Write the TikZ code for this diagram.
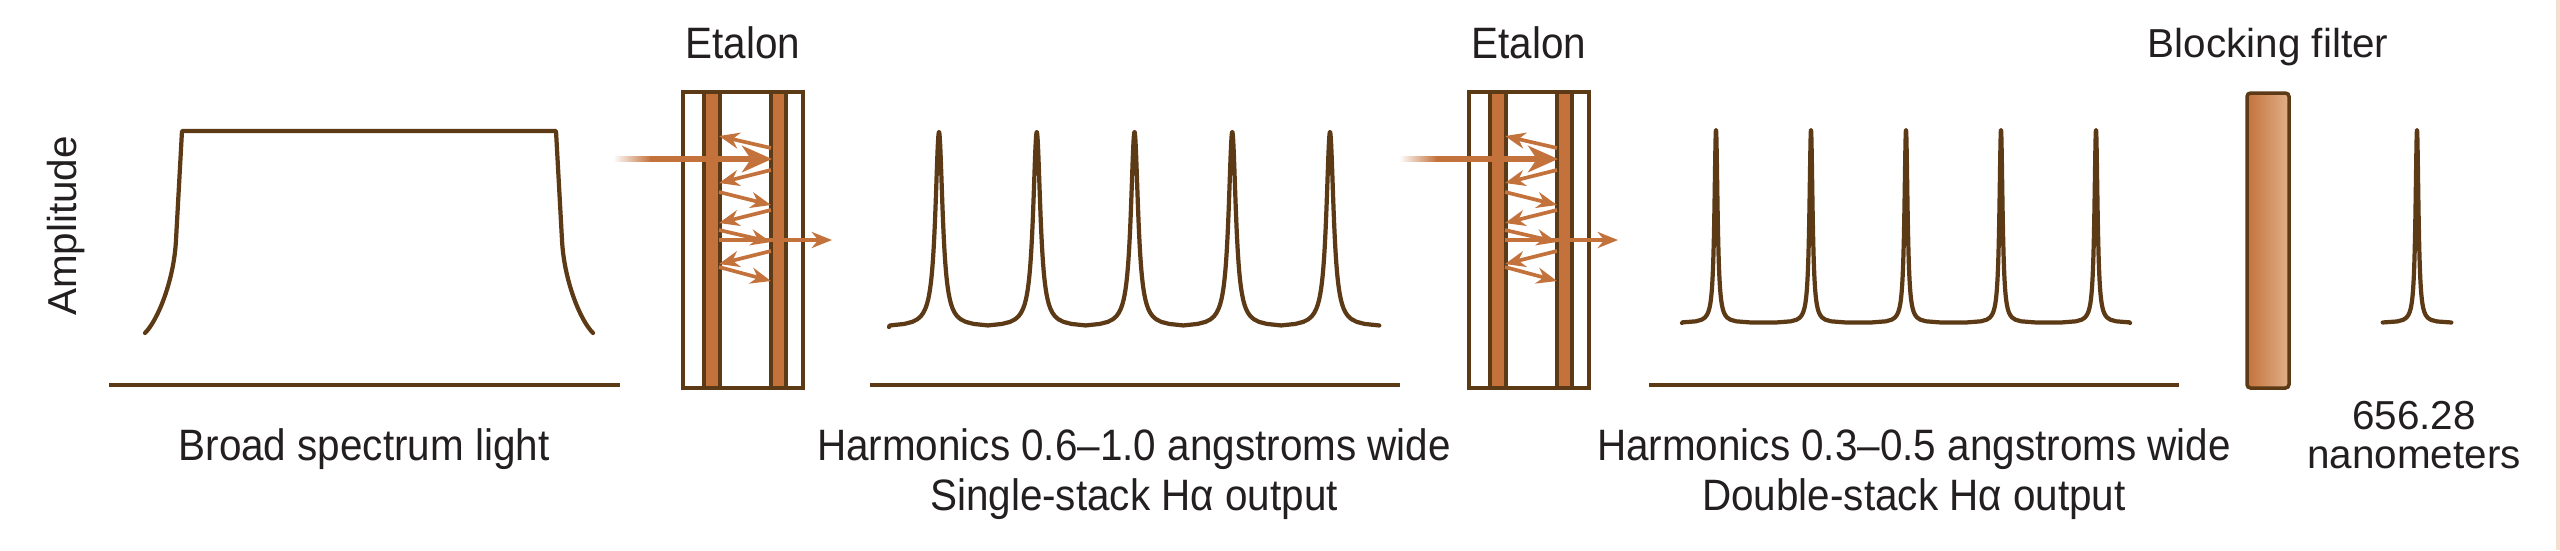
\documentclass[tikz,border=0pt]{standalone}
\usepackage{fontspec}
\setmainfont{Liberation Sans}
\newfontfamily\condfont{Liberation Sans}[FakeStretch=0.92]
\usetikzlibrary{arrows.meta}
\definecolor{rim}{HTML}{5C3A16}
\definecolor{copper}{HTML}{C4723C}
\definecolor{tan}{HTML}{E0B08A}
\definecolor{ink}{HTML}{231F20}
\begin{document}
\begin{tikzpicture}[x=0.01cm, y=-0.01cm,
        curve/.style = {rim, line width=1.2pt, line cap=round, line join=round},
        floor/.style = {rim, line width=1.2pt},
        cond text/.style = {ink, font=\condfont\fontsize{12.5}{15}\selectfont, anchor=base},
        reg text/.style = {ink, font=\fontsize{11.5}{14}\selectfont, anchor=base},
        ray/.style = {copper, line width=1.05pt, -{Stealth[length=5.8pt, width=4.6pt]}},
        beam/.style = {copper, line width=1.5pt, -{Stealth[length=8.5pt, width=7.5pt, inset=2.5pt]}}
    ]
    \useasboundingbox (0,0) rectangle (2560,550);
    \fill[white] (0,0) rectangle (2560,550);
    \fill[tan!40] (2556,0) rectangle (2560,550);

    \node[reg text, rotate=90] (amp) at (76,226) {Amplitude};

    % broad spectrum
    \draw[curve] (145,333) .. controls (158,320) and (174,280) .. (176,240) -- (182,131)
        -- (556,131) -- (562,240) .. controls (564,280) and (580,320) .. (593,333);
    \draw[floor] (109,385) -- (620,385);
    \node[cond text] (broad) at (364,460) {Broad spectrum light};

    % etalons
    \foreach \L/\n in {683/1, 1469/2} {
        \draw[rim, line width=1.2pt] (\L,92) rectangle ++(120,296);
        \draw[rim, line width=0.9pt, fill=copper]
            ({\L+21},92) rectangle ({\L+37},388)
            ({\L+88},92) rectangle ({\L+103},388);
        \shade[left color=white, right color=copper] ({\L-70},156.5) rectangle ({\L-32},161.5);
        \draw[beam] ({\L-33},159) -- ({\L+89},159);
        \foreach \a/\b/\c/\d in {88/148/36/136, 88/170/36/183, 36/192/88/205, 88/210/36/223,
                36/230/88/242, 88/251/36/264, 36/267/88/281}
            \draw[ray] ({\L+\a},\b) -- ({\L+\c},\d);
        \draw[ray] ({\L+36},240) -- ({\L+149},240);
        \node[cond text] (etalon\n) at ({\L+60},58) {Etalon};
    }

    % single stack
    \draw[curve] (889,327) \foreach \i in {0,...,4} {
        -- plot[domain=-84.9:84.9, samples=81, variable=\t]
            ({939+97.75*\i+4.4*tan(\t)}, {327-195*cos(\t)^2}) };
    \draw[floor] (870,385) -- (1400,385);
    \node[cond text] (single1) at (1134,460) {Harmonics 0.6–1.0 angstroms wide};
    \node[cond text] (single2) at (1134,510) {Single-stack Hα output};

    % double stack
    \draw[curve] (1682,323) \foreach \i in {0,...,4} {
        -- plot[domain=-86.8:86.8, samples=81, variable=\t]
            ({1716+95*\i+1.9*tan(\t)}, {323-193*cos(\t)^2}) } -- (2130,323);
    \draw[floor] (1649,385) -- (2179,385);
    \node[cond text] (double1) at (1914,460) {Harmonics 0.3–0.5 angstroms wide};
    \node[cond text] (double2) at (1914,510) {Double-stack Hα output};

    % blocking filter
    \shadedraw[left color=copper, right color=tan, draw=rim, line width=1pt, rounded corners=1pt]
        (2247,93) rectangle (2289,388);
    \node[reg text] (block) at (2268,57) {Blocking filter};
    \draw[curve] plot[domain=-87:87, samples=81, variable=\t]
        ({2417+1.8*tan(\t)}, {323-193*cos(\t)^2});
    \node[reg text] (wave1) at (2414,429) {656.28};
    \node[reg text] (wave2) at (2414,468) {nanometers};
\end{tikzpicture}
\end{document}
